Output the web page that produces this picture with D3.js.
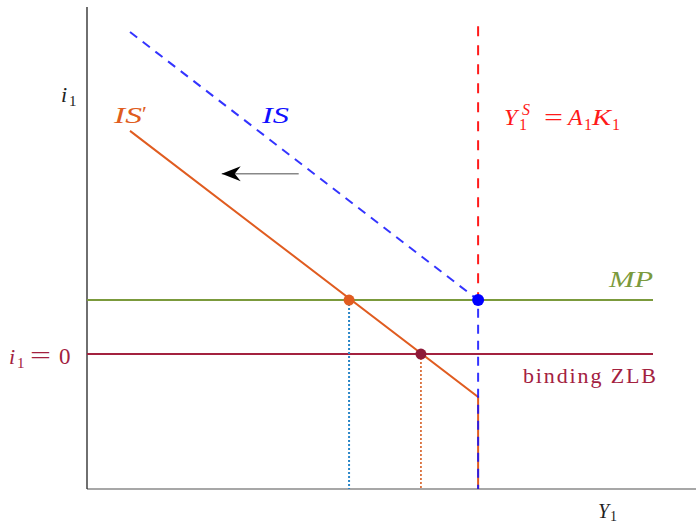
<!DOCTYPE html>
<html>
<head>
<meta charset="utf-8">
<script src="https://cdn.jsdelivr.net/npm/d3@7"></script>
<style>
  html, body { margin: 0; padding: 0; background: #fff; }
  svg { display: block; }
  text { font-family: "Liberation Serif", "DejaVu Serif", serif; }
</style>
</head>
<body>
<svg id="chart" width="696" height="525"></svg>
<script>
// Model coordinates (output on x, interest rate on y)
const isCurve      = [[0.76, 9.48], [6.91, 3.92]];   // original IS
const isPrimeCurve = [[0.76, 7.43], [6.91, 1.91]];   // shifted IS'
const supplyOutput = 6.91;                             // Y1^S = A1 K1
const supplyTop    = 9.60;
const mpRate       = 3.92;                             // MP
const zlbRate      = 2.80;                             // i1 = 0
const mpOutput     = 4.63;                             // IS' meets MP
const zlbOutput    = 5.90;                             // IS' meets ZLB
const lineEnd      = 10.0;
const axisEnd      = [10.76, 10.0];
const shiftArrow   = [[3.74, 6.54], [2.38, 6.54]];

const colors = {
  is: "#1010ff", isPrime: "#e05c20", supply: "#ff1a1a",
  mp: "#7b9a3c", zlb: "#a3213f", zlbDot: "#8e1a38",
  mpDrop: "#2a86c8", zlbDrop: "#d65d22"
};

const svg = d3.select("#chart");
const x = d3.scaleLinear().domain([0, 10]).range([87, 653]);
const y = d3.scaleLinear().domain([0, 10]).range([489, 7]);
const line = d3.line().x(d => x(d[0])).y(d => y(d[1]));

// Axes
svg.append("line").attr("x1", x(0)).attr("x2", x(axisEnd[0]))
  .attr("y1", y(0)).attr("y2", y(0)).attr("stroke", "#8a8a8a").attr("stroke-width", 1.5);
svg.append("line").attr("x1", x(0)).attr("x2", x(0))
  .attr("y1", y(0)).attr("y2", y(axisEnd[1])).attr("stroke", "#222").attr("stroke-width", 1.3);

// Policy lines
svg.append("path").attr("d", line([[0, mpRate], [lineEnd, mpRate]]))
  .attr("stroke", colors.mp).attr("stroke-width", 2).attr("fill", "none");
svg.append("path").attr("d", line([[0, zlbRate], [lineEnd, zlbRate]]))
  .attr("stroke", colors.zlb).attr("stroke-width", 2).attr("fill", "none");

// Dotted drops to the output axis
svg.append("path").attr("d", line([[mpOutput, mpRate], [mpOutput, 0]]))
  .attr("stroke", colors.mpDrop).attr("stroke-width", 2).attr("stroke-dasharray", "2,2").attr("fill", "none");
svg.append("path").attr("d", line([[zlbOutput, zlbRate], [zlbOutput, 0]]))
  .attr("stroke", colors.zlbDrop).attr("stroke-width", 1.6).attr("stroke-dasharray", "2,2").attr("fill", "none");

// Supply constraint (vertical)
svg.append("path").attr("d", line([[supplyOutput, supplyTop], [supplyOutput, mpRate]]))
  .attr("stroke", colors.supply).attr("stroke-width", 2).attr("stroke-dasharray", "10,9").attr("fill", "none");

// IS' curve, continuing down the supply constraint
svg.append("path").attr("d", line([...isPrimeCurve, [supplyOutput, 0]]))
  .attr("stroke", colors.isPrime).attr("stroke-width", 2).attr("fill", "none");

// IS curve, continuing down the supply constraint
svg.append("path").attr("d", line([...isCurve, [supplyOutput, 0]]))
  .attr("stroke", colors.is).attr("stroke-width", 2).attr("stroke-dasharray", "9,7")
  .attr("stroke-opacity", 0.85).attr("fill", "none");

// Equilibrium points
svg.append("circle").attr("cx", x(mpOutput)).attr("cy", y(mpRate)).attr("r", 5.5).attr("fill", colors.isPrime);
svg.append("circle").attr("cx", x(zlbOutput)).attr("cy", y(zlbRate)).attr("r", 5.5).attr("fill", colors.zlbDot);
svg.append("circle").attr("cx", x(supplyOutput)).attr("cy", y(mpRate)).attr("r", 6).attr("fill", "#0000ff");

// Shift arrow (stealth head)
svg.append("path").attr("d", line(shiftArrow)).attr("stroke", "#888").attr("stroke-width", 1.5).attr("fill", "none");
const ax = x(shiftArrow[1][0]), ay = y(shiftArrow[1][1]);
svg.append("path")
  .attr("d", `M${ax},${ay} L${ax + 19},${ay - 7.5} L${ax + 13},${ay} L${ax + 19},${ay + 7.5} Z`)
  .attr("fill", "#000");

// Typeset labels: each glyph group placed on its own
function glyph(px, py, str, color, size, opts = {}) {
  const t = svg.append("text").attr("x", px).attr("y", py).attr("fill", color)
    .attr("font-size", size).text(str);
  if (opts.italic) t.attr("font-style", "italic");
  if (opts.width) t.attr("textLength", opts.width).attr("lengthAdjust", opts.adjust || "spacingAndGlyphs");
  return t;
}

// i_1 (vertical axis)
glyph(61, 102, "i", "#222", 22, {italic: true});
glyph(69, 106, "1", "#222", 15);

// Y_1 (horizontal axis)
glyph(598, 518, "Y", "#222", 20, {italic: true});
glyph(610, 521, "1", "#222", 14);

// IS'
glyph(114, 123, "IS", colors.isPrime, 24, {italic: true, width: 28});
glyph(142, 121, "′", colors.isPrime, 22);

// IS
glyph(262, 123, "IS", colors.is, 24, {italic: true, width: 27});

// Y_1^S = A_1 K_1
glyph(504, 125, "Y", colors.supply, 24, {italic: true});
glyph(522, 115, "S", colors.supply, 16, {italic: true});
glyph(519, 130, "1", colors.supply, 16);
glyph(544, 125, "=", colors.supply, 24, {width: 19});
glyph(568, 125, "A", colors.supply, 24, {italic: true});
glyph(584, 130, "1", colors.supply, 16);
glyph(592, 125, "K", colors.supply, 24, {italic: true, width: 19});
glyph(612, 130, "1", colors.supply, 16);

// MP
glyph(609, 287, "MP", colors.mp, 24, {italic: true, width: 44});

// i_1 = 0
glyph(9, 364, "i", colors.zlb, 22, {italic: true});
glyph(17, 368, "1", colors.zlb, 15);
glyph(30, 363, "=", colors.zlb, 24, {width: 21});
glyph(59, 364, "0", colors.zlb, 23);

// binding ZLB
glyph(523, 383, "binding ZLB", colors.zlb, 22, {width: 133, adjust: "spacing"});
</script>
</body>
</html>
